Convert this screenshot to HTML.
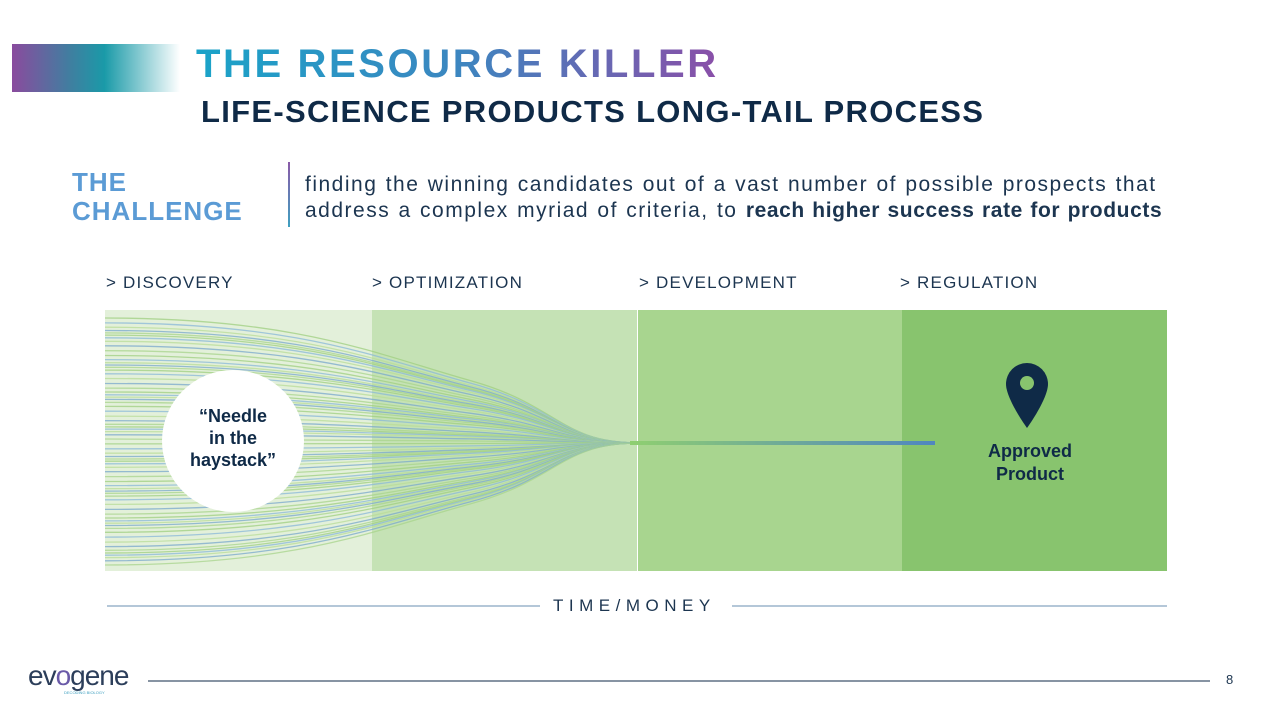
<!DOCTYPE html>
<html><head><meta charset="utf-8"><style>
body{margin:0;width:1280px;height:720px;background:#fff;position:relative;overflow:hidden;font-family:"Liberation Sans",sans-serif}
.a{position:absolute}
.ph{font-size:17px;color:#1c3550;letter-spacing:1.2px;top:273px}
</style></head><body>
<div class="a" style="left:12px;top:44px;width:168px;height:48px;background:linear-gradient(90deg,#8a4b9e 0%,#3f7fa0 35%,#1a9aa8 55%,#fff 100%)"></div>
<div class="a" style="left:196px;top:42px;font-size:40px;font-weight:bold;letter-spacing:2.6px;background:linear-gradient(90deg,#1aa3c8,#3c86c0 50%,#8a4fa8);-webkit-background-clip:text;color:transparent;white-space:nowrap">THE RESOURCE KILLER</div>
<div class="a" style="left:201px;top:94px;font-size:31px;font-weight:bold;letter-spacing:1.3px;color:#0f2a47;white-space:nowrap">LIFE-SCIENCE PRODUCTS LONG-TAIL PROCESS</div>
<div class="a" style="left:72px;top:168px;font-size:26px;font-weight:bold;letter-spacing:1px;color:#5b9bd5;line-height:29px">THE<br>CHALLENGE</div>
<div class="a" style="left:288px;top:162px;width:2px;height:65px;background:linear-gradient(#8a5aa8,#3fa0c0)"></div>
<div class="a" style="left:305px;top:172px;font-size:21px;letter-spacing:1.5px;word-spacing:1px;color:#1c3550;line-height:26px;white-space:nowrap">finding the winning candidates out of a vast number of possible prospects that<br>address a complex myriad of criteria, to <b style="letter-spacing:0.6px">reach higher success rate for products</b></div>
<div class="a ph" style="left:106px">&gt; DISCOVERY</div>
<div class="a ph" style="left:372px">&gt; OPTIMIZATION</div>
<div class="a ph" style="left:639px">&gt; DEVELOPMENT</div>
<div class="a ph" style="left:900px">&gt; REGULATION</div>
<svg class="a" style="left:0;top:0" width="1280" height="720">
<defs><linearGradient id="lg" gradientUnits="userSpaceOnUse" x1="630" y1="0" x2="935" y2="0"><stop offset="0" stop-color="#8fcf70"/><stop offset="1" stop-color="#4f86c0"/></linearGradient></defs>
<rect x="105" y="310" width="267" height="261" fill="#e3f0da"/>
<rect x="372" y="310" width="265" height="261" fill="#c5e2b5"/>
<rect x="638" y="310" width="264" height="261" fill="#a8d58f"/>
<rect x="902" y="310" width="265" height="261" fill="#88c46e"/>
<g id="lines" fill="none" stroke-width="1.3"></g>
<rect x="630" y="441" width="305" height="4" fill="url(#lg)"/>
<circle cx="233" cy="441" r="71" fill="#fff"/>
<path d="M1027 363a21 21 0 0 1 21 21c0 15-21 44-21 44s-21-29-21-44a21 21 0 0 1 21-21z" fill="#0f2a47"/>
<circle cx="1027" cy="383" r="7" fill="#88c46e"/>
<line x1="107" y1="606" x2="540" y2="606" stroke="#6a8fb0" stroke-width="1"/>
<line x1="732" y1="606" x2="1167" y2="606" stroke="#6a8fb0" stroke-width="1"/>
<line x1="148" y1="681" x2="1210" y2="681" stroke="#0f2a47" stroke-width="1"/>
</svg>
<div class="a" style="left:163px;top:405px;width:140px;text-align:center;font-size:18px;font-weight:bold;color:#0f2a47;line-height:22px">“Needle<br>in the<br>haystack”</div>
<div class="a" style="left:960px;top:440px;width:140px;text-align:center;font-size:18px;font-weight:bold;color:#0f2a47;line-height:23px">Approved<br>Product</div>
<div class="a" style="left:553px;top:596px;font-size:17px;letter-spacing:5.5px;color:#1c3550">TIME/MONEY</div>
<div class="a" style="left:28px;top:660px;font-size:28px;color:#2c3e5a;letter-spacing:-1px">ev<span style="color:#6a5aa8">o</span>gene</div>
<div class="a" style="left:64px;top:690px;font-size:4px;color:#3fa0c0">DECODING BIOLOGY</div>
<div class="a" style="left:1226px;top:672px;font-size:13px;color:#1c3550">8</div>
<script>
var g=document.getElementById('lines'),h='';
var cols=['#9fcf80','#8ab8d8','#b8dc98','#7aa8cc','#a8d48c'];
for(var i=0;i<70;i++){var y=318+i*3.6+Math.sin(i*7)*2;
h+='<path d="M105 '+y.toFixed(1)+' C300 '+y.toFixed(1)+' 380 '+(y*0.7+443*0.3).toFixed(1)+' 470 '+((y+443)/2).toFixed(1)+' S560 443 640 443" stroke="'+cols[i%5]+'" opacity="0.75"/>';}
g.innerHTML=h;
</script>
</body></html>
